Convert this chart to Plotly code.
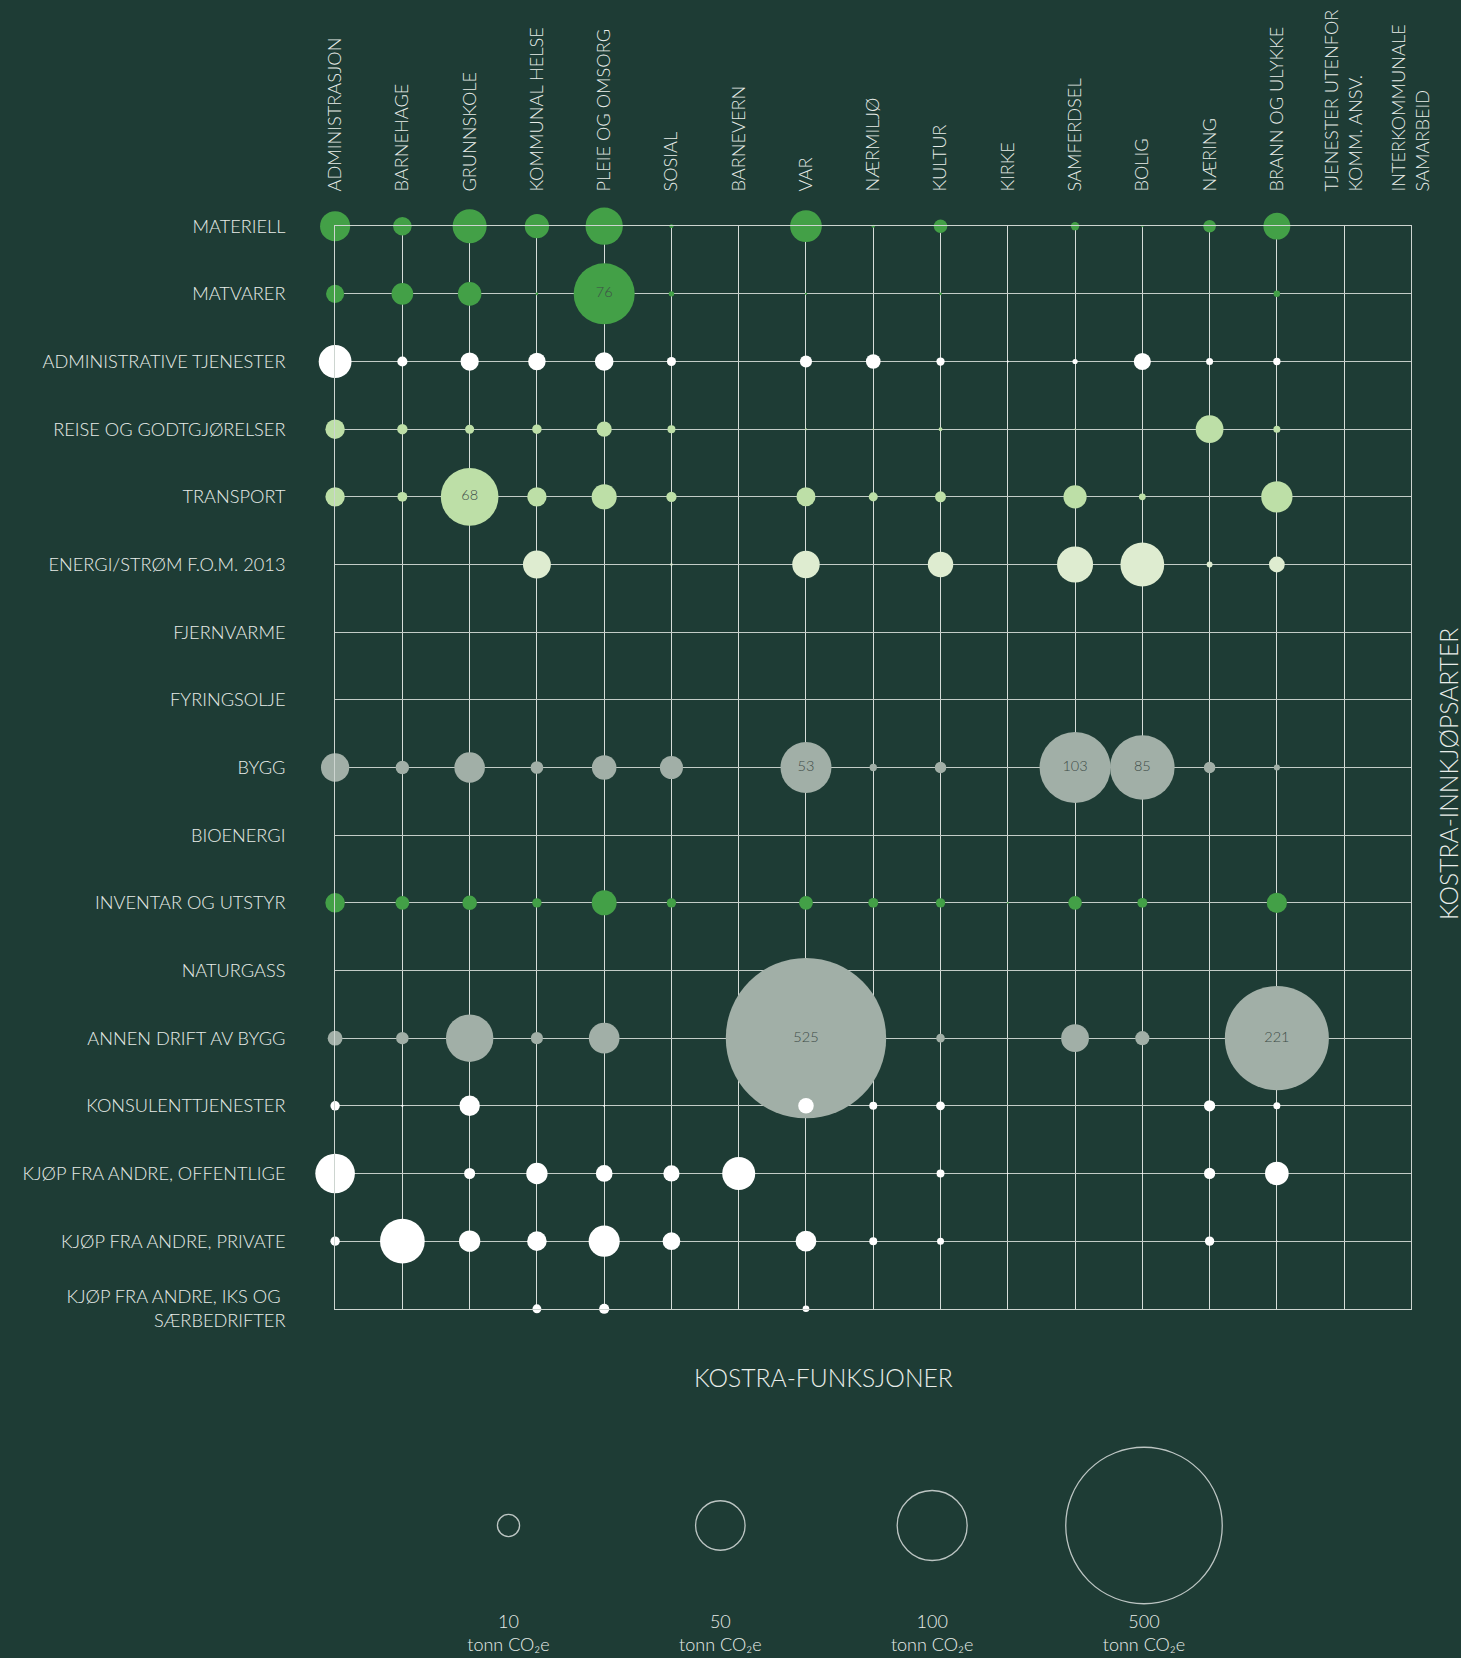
import plotly.graph_objects as go

# ---------------- data ----------------
columns = [
    "ADMINISTRASJON", "BARNEHAGE", "GRUNNSKOLE", "KOMMUNAL HELSE",
    "PLEIE OG OMSORG", "SOSIAL", "BARNEVERN", "VAR", "NÆRMILJØ", "KULTUR",
    "KIRKE", "SAMFERDSEL", "BOLIG", "NÆRING", "BRANN OG ULYKKE",
    "TJENESTER UTENFOR<br>KOMM. ANSV.", "INTERKOMMUNALE<br>SAMARBEID",
]

rows = [
    "MATERIELL", "MATVARER", "ADMINISTRATIVE TJENESTER", "REISE OG GODTGJØRELSER",
    "TRANSPORT", "ENERGI/STRØM F.O.M. 2013", "FJERNVARME", "FYRINGSOLJE", "BYGG",
    "BIOENERGI", "INVENTAR OG UTSTYR", "NATURGASS", "ANNEN DRIFT AV BYGG",
    "KONSULENTTJENESTER", "KJØP FRA ANDRE, OFFENTLIGE", "KJØP FRA ANDRE, PRIVATE",
    "KJØP FRA ANDRE, IKS OG <br>SÆRBEDRIFTER",
]

# tonn CO2e per KOSTRA-funksjon (column order as above)
materiell   = [18.5, 7.0, 23.6, 12.0, 28.4, 0.3, 0, 20.5, 0.2, 3.7, 0, 1.4, 0.08, 3.2, 14.7, 0, 0]
matvarer    = [6.7, 9.6, 11.3, 0.15, 76, 0.6, 0, 0.1, 0, 0.15, 0, 0, 0, 0, 0.87, 0, 0]
admin_tj    = [22.0, 2.1, 6.8, 6.3, 7.1, 1.7, 0, 3.0, 4.4, 1.4, 0.07, 0.55, 6.0, 1.0, 1.1, 0, 0]
reise       = [7.7, 2.2, 1.7, 1.85, 4.7, 1.3, 0, 0.08, 0.04, 0.3, 0, 0.05, 0, 15.7, 1.0, 0, 0]
transport   = [7.7, 2.0, 68, 7.7, 12.9, 2.2, 0, 7.4, 1.7, 2.45, 0, 11.0, 0.95, 0, 20.0, 0, 0]
energi      = [0, 0, 0, 15.9, 0, 0.12, 0, 15.4, 0, 13.2, 0, 26.5, 39.2, 0.7, 5.1, 0, 0]
fjernvarme  = [0] * 17
fyringsolje = [0] * 17
bygg        = [16.3, 3.7, 19.0, 3.3, 12.3, 10.9, 0, 53, 1.1, 2.7, 0, 103, 85, 2.7, 0.77, 0, 0]
bioenergi   = [0] * 17
inventar    = [7.8, 3.9, 4.3, 1.8, 12.7, 1.8, 0, 3.9, 2.0, 1.8, 0.07, 3.8, 2.0, 0, 8.4, 0, 0]
naturgass   = [0] * 17
annen_drift = [4.5, 3.2, 46.0, 3.0, 19.2, 0, 0, 525, 0, 1.5, 0, 15.8, 4.1, 0, 221, 0, 0]
konsulent   = [1.8, 0.1, 8.5, 0.06, 0.07, 0, 0, 4.9, 1.3, 1.6, 0, 0, 0, 2.6, 1.0, 0, 0]
kjop_off    = [32.0, 0, 2.5, 9.3, 5.7, 5.4, 22.3, 0, 0.04, 1.3, 0.04, 0, 0.03, 2.6, 11.4, 0, 0]
kjop_priv   = [1.8, 40.7, 9.3, 7.8, 19.8, 6.4, 0, 8.8, 1.3, 1.0, 0, 0, 0, 1.8, 0.03, 0, 0]
kjop_iks    = [0, 0, 0, 1.6, 2.1, 0, 0, 0.9, 0, 0, 0, 0, 0, 0, 0, 0, 0]

row_values = [materiell, matvarer, admin_tj, reise, transport, energi, fjernvarme,
              fyringsolje, bygg, bioenergi, inventar, naturgass, annen_drift,
              konsulent, kjop_off, kjop_priv, kjop_iks]

legend_values = [10, 50, 100, 500]
label_threshold = 50

# ---------------- styles ----------------
BG = "#1e3c35"
TXT = "#e8ede9"
DARK_GREEN = "#43a047"
LIGHT_GREEN = "#bddfa7"
PALE_GREEN = "#deecd0"
GREY = "#a1afa7"
WHITE = "#ffffff"
row_colors = [DARK_GREEN, DARK_GREEN, WHITE, LIGHT_GREEN, LIGHT_GREEN, PALE_GREEN,
              PALE_GREEN, PALE_GREEN, GREY, GREY, DARK_GREEN, GREY, GREY,
              WHITE, WHITE, WHITE, WHITE]

K = 7.0                 # px diameter per sqrt(tonn)
SIZEREF = 2.0 / (K * K)
FONT = "Lato"
WEIGHT = 300

W, H = 1461, 1658
gx0, gx1 = 335.1, 1411.4     # grid extent in px
gy0, gy1 = 226.2, 1308.8

# ---------------- build points ----------------
xs, ys, ss, cs = [], [], [], []
lxs, lys, lts = [], [], []
for r, vals in enumerate(row_values):
    for c, v in enumerate(vals):
        if v > 0:
            xs.append(c)
            ys.append(r)
            ss.append(v)
            cs.append(row_colors[r])
            if v >= label_threshold:
                lxs.append(c)
                lys.append(r)
                lts.append(str(v))

fig = go.Figure()
fig.add_trace(go.Scatter(
    x=xs, y=ys, mode="markers",
    marker=dict(size=ss, sizemode="area", sizeref=SIZEREF, color=cs,
                line=dict(width=0), opacity=1),
    cliponaxis=False, hoverinfo="skip", showlegend=False,
))
fig.add_trace(go.Scatter(
    x=lxs, y=lys, mode="text", text=lts, textposition="middle center",
    textfont=dict(family=FONT, size=14.5, color="#3e4d47", weight=WEIGHT),
    cliponaxis=False, hoverinfo="skip", showlegend=False,
))

fig.add_trace(go.Scatter(
    x=[str(v) for v in legend_values], y=[0] * len(legend_values),
    xaxis="x2", yaxis="y2", mode="markers",
    marker=dict(size=legend_values, sizemode="area", sizeref=SIZEREF,
                symbol="circle-open", color=WHITE, line=dict(width=1.3, color=WHITE)),
    cliponaxis=False, hoverinfo="skip", showlegend=False,
))

lx_centers = [508.5, 720.0, 932.5, 1144.0]
step = (lx_centers[-1] - lx_centers[0]) / 3
lx0 = lx_centers[0] - step / 2
lx1 = lx_centers[-1] + step / 2
ly0, ly1 = 1465.0, 1586.0

fig.update_layout(
    width=W, height=H, autosize=False,
    margin=dict(l=0, r=0, t=0, b=0, autoexpand=False),
    paper_bgcolor=BG, plot_bgcolor=BG,
    font=dict(family=FONT, color=TXT, size=17, weight=WEIGHT),
    xaxis=dict(
        domain=[gx0 / W, gx1 / W], range=[0, 16], automargin=False,
        tickvals=list(range(len(columns))), ticktext=columns,
        side="top", tickangle=-90, ticks="outside", ticklen=30,
        tickcolor="rgba(0,0,0,0)",
        tickfont=dict(family=FONT, size=18.2, color=TXT, weight=WEIGHT),
        showgrid=True, gridcolor="#d6ddd9", gridwidth=1,
        showline=True, mirror=True, linecolor="#cdd5d0", linewidth=1,
        zeroline=False, fixedrange=True,
    ),
    yaxis=dict(
        domain=[1 - gy1 / H, 1 - gy0 / H], range=[16, 0], automargin=False,
        tickvals=list(range(len(rows))), ticktext=rows,
        ticks="outside", ticklen=45, tickcolor="rgba(0,0,0,0)",
        tickfont=dict(family=FONT, size=18.2, color=TXT, weight=WEIGHT),
        showgrid=True, gridcolor="#c3ccc7", gridwidth=1,
        showline=True, mirror=True, linecolor="#cdd5d0", linewidth=1,
        zeroline=False, fixedrange=True,
    ),
    xaxis2=dict(
        domain=[lx0 / W, lx1 / W], range=[-0.5, 3.5], anchor="y2", automargin=False,
        type="category", categoryorder="array",
        categoryarray=[str(v) for v in legend_values],
        tickvals=[str(v) for v in legend_values],
        ticktext=[f"{v}<br>tonn CO₂e" for v in legend_values],
        ticks="outside", ticklen=19, tickcolor="rgba(0,0,0,0)",
        tickfont=dict(family=FONT, size=18, color=TXT, weight=WEIGHT),
        showgrid=False, zeroline=False, showline=False, fixedrange=True,
    ),
    yaxis2=dict(
        domain=[1 - ly1 / H, 1 - ly0 / H], range=[-1, 1], anchor="x2",
        visible=False, fixedrange=True, automargin=False,
    ),
    annotations=[
        dict(text="KOSTRA-FUNKSJONER", xref="paper", yref="paper",
             x=823.6 / W, y=1 - 1377.6 / H, xanchor="center", yanchor="middle",
             showarrow=False, font=dict(family=FONT, size=24.7, color=TXT, weight=WEIGHT)),
        dict(text="KOSTRA-INNKJØPSARTER", xref="paper", yref="paper",
             x=1448 / W, y=1 - 774 / H, xanchor="center", yanchor="middle",
             textangle=-90, showarrow=False,
             font=dict(family=FONT, size=24.7, color=TXT, weight=WEIGHT)),
    ],
)

fig.write_html(
    "out.html",
    config={"responsive": False, "displayModeBar": False},
    post_script=(
        "document.body.style.margin='0';"
        "document.body.style.padding='0';"
        "document.body.style.overflow='hidden';"
        "document.body.style.background='" + BG + "';"
    ),
)
